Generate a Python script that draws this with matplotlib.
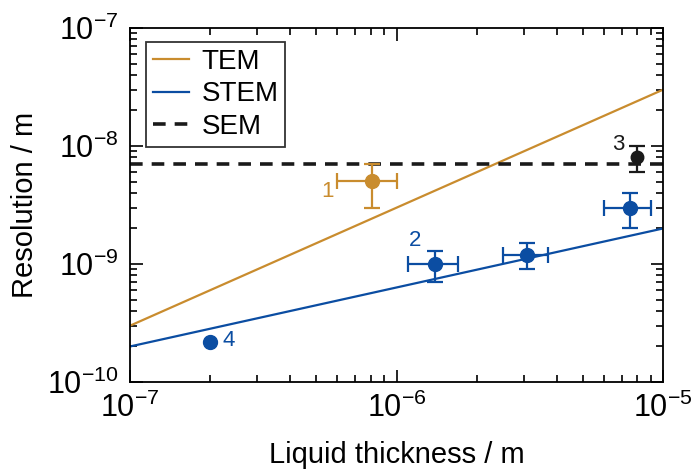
import numpy as np
import matplotlib
matplotlib.use('Agg')
import matplotlib.pyplot as plt
from matplotlib.ticker import LogLocator, FuncFormatter, NullFormatter

plt.rcParams['font.family'] = 'Liberation Sans'
plt.rcParams['mathtext.fontset'] = 'custom'
plt.rcParams['mathtext.rm'] = 'Liberation Sans'
plt.rcParams['mathtext.default'] = 'regular'

orange = '#C98C2E'
blue = '#0B4DA2'

# model lines (end points at x = 1e-7 and 1e-5)
line_x = [1e-7, 1e-5]
tem_y = [3e-10, 3e-8]
stem_y = [2e-10, 2e-9]
sem_level = 7e-9

# data points: x, y, x error (low, high), y error (low, high)
tem_pts_x = [8.1e-7]
tem_pts_y = [5.1e-9]
tem_xlo, tem_xhi = [6.0e-7], [1.0e-6]
tem_ylo, tem_yhi = [3.0e-9], [7.1e-9]

stem_pts_x = [1.4e-6, 3.1e-6, 7.5e-6]
stem_pts_y = [1.0e-9, 1.2e-9, 3.0e-9]
stem_xlo = [1.1e-6, 2.5e-6, 6.0e-6]
stem_xhi = [1.7e-6, 3.7e-6, 9.0e-6]
stem_ylo = [7.1e-10, 9.1e-10, 2.0e-9]
stem_yhi = [1.3e-9, 1.5e-9, 4.0e-9]

sem_pts_x = [8.0e-6]
sem_pts_y = [8.1e-9]
sem_ylo, sem_yhi = [6.0e-9], [1.0e-8]

p4_x, p4_y = [2.0e-7], [2.2e-10]

fig = plt.figure(figsize=(6.96, 4.73), dpi=100)
ax = fig.add_axes([130/696, 1 - 382/473, (663 - 130)/696, (382 - 28)/473])

ax.plot(line_x, tem_y, color=orange, lw=1.6, label='TEM')
ax.plot(line_x, stem_y, color=blue, lw=1.6, label='STEM')
ax.axhline(sem_level, color='#1a1a1a', lw=2.6, ls=(0, (3.5, 2.5)), label='SEM')

def err(y, lo, hi):
    return [np.array(y) - np.array(lo), np.array(hi) - np.array(y)]

ebkw = dict(fmt='o', ms=10, elinewidth=1.6, capsize=6, capthick=1.6)
ax.errorbar(tem_pts_x, tem_pts_y, xerr=err(tem_pts_x, tem_xlo, tem_xhi),
            yerr=err(tem_pts_y, tem_ylo, tem_yhi), color=orange, **ebkw)
ax.errorbar(stem_pts_x, stem_pts_y, xerr=err(stem_pts_x, stem_xlo, stem_xhi),
            yerr=err(stem_pts_y, stem_ylo, stem_yhi), color=blue, **ebkw)
ax.errorbar(sem_pts_x, sem_pts_y, yerr=err(sem_pts_y, sem_ylo, sem_yhi),
            color='#1a1a1a', **dict(ebkw, ms=9))
ax.plot(p4_x, p4_y, 'o', color=blue, ms=10)

ax.text(5.5e-7, 4.1e-9, '1', color=orange, fontsize=16, ha='center', va='center')
ax.text(1.17e-6, 1.57e-9, '2', color=blue, fontsize=16, ha='center', va='center')
ax.text(6.8e-6, 1.03e-8, '3', color='#1a1a1a', fontsize=16, ha='center', va='center')
ax.text(2.35e-7, 2.25e-10, '4', color=blue, fontsize=16, ha='center', va='center')

ax.set_xscale('log')
ax.set_yscale('log')
ax.set_xlim(1e-7, 1e-5)
ax.set_ylim(1e-10, 1e-7)

fmt = FuncFormatter(lambda v, p: r'$10^{%d}$' % round(np.log10(v)))
for a in (ax.xaxis, ax.yaxis):
    a.set_major_locator(LogLocator(base=10, numticks=10))
    a.set_minor_locator(LogLocator(base=10, subs=np.arange(2, 10), numticks=10))
    a.set_major_formatter(fmt)
    a.set_minor_formatter(NullFormatter())
ax.tick_params(which='both', direction='in', top=True, right=True, width=1.2)
ax.tick_params(which='major', length=9, labelsize=22, pad=8)
ax.tick_params(which='minor', length=5)
for s in ax.spines.values():
    s.set_linewidth(1.3)

ax.set_xlabel('Liquid thickness / m', fontsize=21, labelpad=12)
ax.set_ylabel('Resolution / m', fontsize=21, labelpad=6)

leg = ax.legend(loc='upper left', fontsize=20, frameon=True, fancybox=False,
                edgecolor='black', handlelength=1.3, handletextpad=0.45,
                labelspacing=0.23, borderpad=0.25, borderaxespad=0,
                bbox_to_anchor=(0.03, 0.96))
leg.get_frame().set_linewidth(1.3)

fig.savefig('out.png', dpi=100)
